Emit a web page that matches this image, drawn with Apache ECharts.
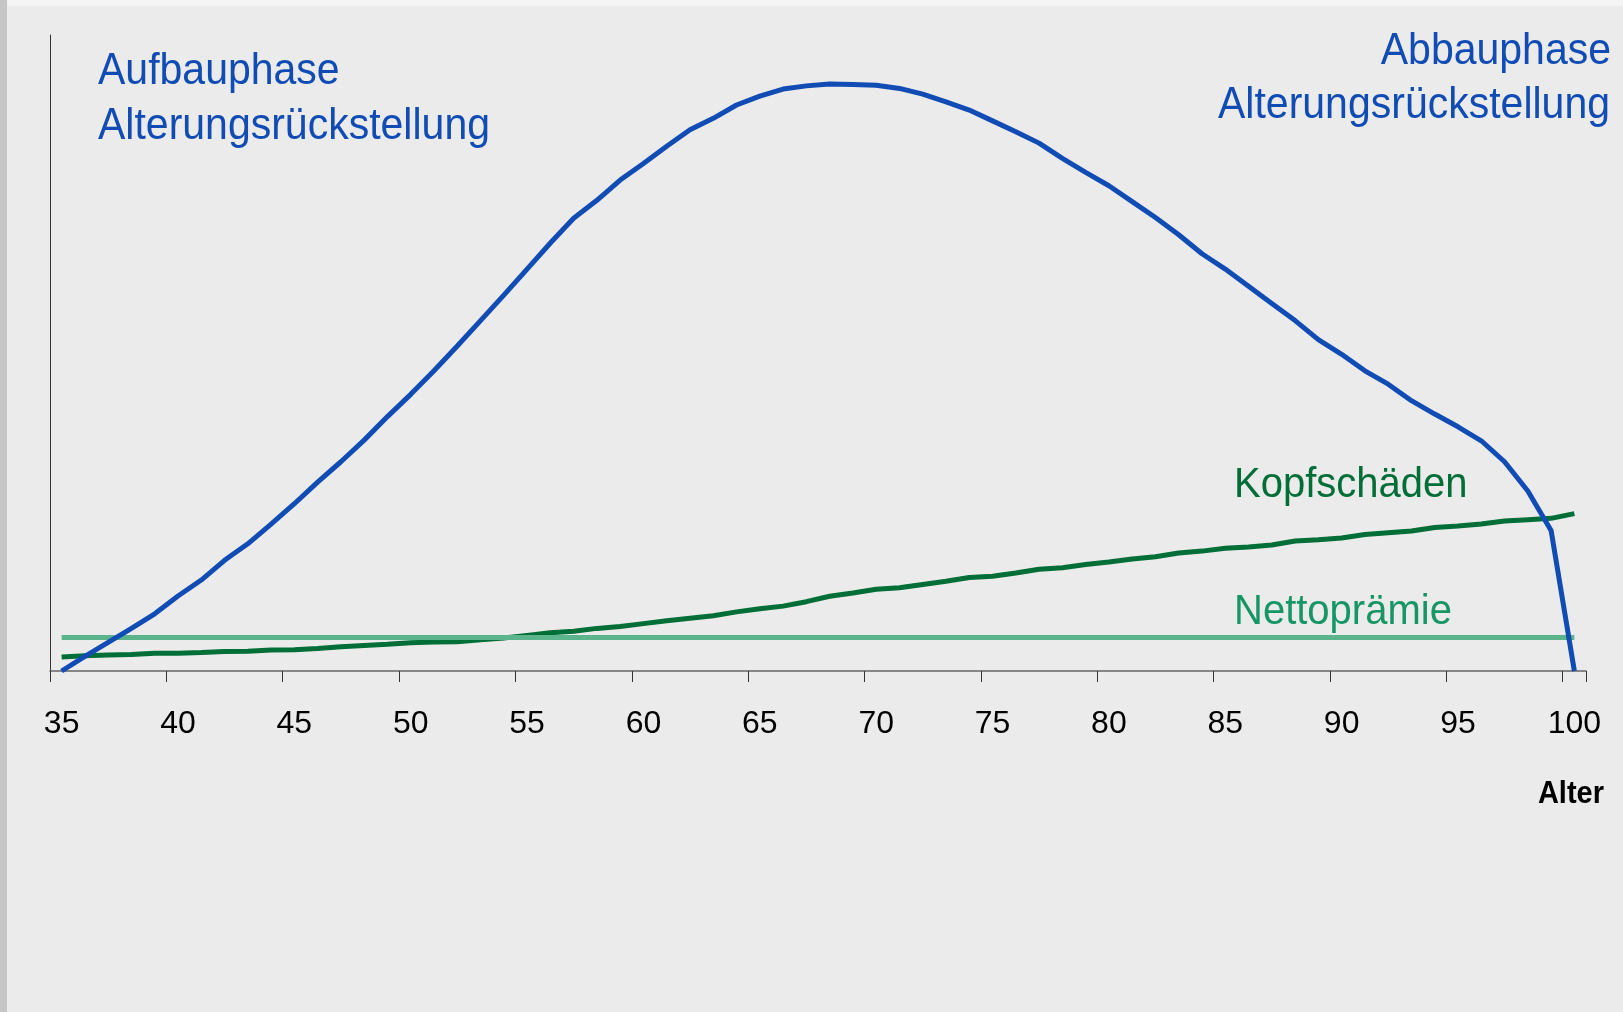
<!DOCTYPE html>
<html>
<head>
<meta charset="utf-8">
<script src="https://cdn.jsdelivr.net/npm/echarts@6/dist/echarts.min.js"></script>
<style>
  html, body { margin: 0; padding: 0; background: #ebebeb; }
  #wrap { position: relative; width: 1623px; height: 1012px; overflow: hidden; }
  #chart { position: absolute; left: 0; top: 0; width: 1623px; height: 1012px; }
  .edge-left { position: absolute; left: 0; top: 0; width: 7px; height: 1012px; background: #c6c6c6; }
  .edge-top { position: absolute; left: 7px; top: 0; width: 1616px; height: 6px; background: #f4f4f4; }
</style>
</head>
<body>
<div id="wrap">
  <div class="edge-left"></div>
  <div class="edge-top"></div>
  <div id="chart"></div>
</div>
<script>
// Alter (Kategorien)
const ages = [
  '35', '36', '37', '38', '39', '40', '41', '42', '43', '44',
  '45', '46', '47', '48', '49', '50', '51', '52', '53', '54',
  '55', '56', '57', '58', '59', '60', '61', '62', '63', '64',
  '65', '66', '67', '68', '69', '70', '71', '72', '73', '74',
  '75', '76', '77', '78', '79', '80', '81', '82', '83', '84',
  '85', '86', '87', '88', '89', '90', '91', '92', '93', '94',
  '95', '96', '97', '98', '99', '100'
]

// Alterungsrückstellung (blau)
const reserve = [
  0, 2.3, 4.5, 6.7, 9.0, 11.8, 14.3, 17.4, 20.0, 23.1,
  26.3, 29.7, 32.9, 36.3, 40.0, 43.5, 47.2, 51.1, 55.1, 59.1,
  63.2, 67.3, 71.2, 74.0, 77.2, 79.8, 82.5, 85.1, 86.9, 89.0,
  90.4, 91.5, 92.0, 92.3, 92.2, 92.1, 91.6, 90.7, 89.5, 88.2,
  86.5, 84.8, 83.0, 80.6, 78.4, 76.3, 73.8, 71.3, 68.6, 65.6,
  63.2, 60.5, 57.8, 55.1, 52.1, 49.8, 47.2, 45.1, 42.5, 40.4,
  38.4, 36.2, 32.9, 28.3, 22.1, 0
]

// Kopfschäden (dunkelgrün)
const claims = [
  2.2, 2.4, 2.5, 2.6, 2.8, 2.8, 2.9, 3.05, 3.1, 3.3,
  3.35, 3.55, 3.8, 4.0, 4.2, 4.45, 4.55, 4.6, 4.9, 5.2,
  5.6, 6.0, 6.25, 6.7, 7.0, 7.45, 7.9, 8.3, 8.7, 9.3,
  9.8, 10.2, 10.9, 11.75, 12.25, 12.85, 13.1, 13.6, 14.1, 14.7,
  14.9, 15.4, 16.0, 16.25, 16.75, 17.15, 17.6, 17.95, 18.55, 18.85,
  19.3, 19.5, 19.8, 20.45, 20.65, 20.9, 21.45, 21.75, 22.0, 22.55,
  22.8, 23.1, 23.6, 23.8, 24.0, 24.75
]

// Nettoprämie (konstant)
const premium = [
  5.25, 5.25, 5.25, 5.25, 5.25, 5.25, 5.25, 5.25, 5.25, 5.25,
  5.25, 5.25, 5.25, 5.25, 5.25, 5.25, 5.25, 5.25, 5.25, 5.25,
  5.25, 5.25, 5.25, 5.25, 5.25, 5.25, 5.25, 5.25, 5.25, 5.25,
  5.25, 5.25, 5.25, 5.25, 5.25, 5.25, 5.25, 5.25, 5.25, 5.25,
  5.25, 5.25, 5.25, 5.25, 5.25, 5.25, 5.25, 5.25, 5.25, 5.25,
  5.25, 5.25, 5.25, 5.25, 5.25, 5.25, 5.25, 5.25, 5.25, 5.25,
  5.25, 5.25, 5.25, 5.25, 5.25, 5.25
]

const FONT = '"Liberation Sans", Arial, sans-serif'
const BLUE = '#104cb4'
const DARK_GREEN = '#006e37'

// text in the original is a bit taller than Arial, so stretch it vertically
function label(text, x, y, color, align, size, weight) {
  return {
    type: 'text',
    x: x,
    y: y,
    z: 10,
    scaleY: 1.08,
    style: {
      text: text,
      fill: color,
      font: (weight || 'normal') + ' ' + size + 'px ' + FONT,
      textAlign: align,
      textVerticalAlign: 'middle'
    }
  }
}

const chart = echarts.init(document.getElementById('chart'), null, { renderer: 'canvas' })

chart.setOption({
  animation: false,
  backgroundColor: 'transparent',
  textStyle: { fontFamily: FONT },
  grid: {
    left: 50,
    right: 37,
    top: 35,
    bottom: 341,
    containLabel: false
  },
  xAxis: {
    type: 'category',
    data: ages,
    boundaryGap: true,
    axisLine: { lineStyle: { color: '#666', width: 1.5 } },
    axisTick: {
      show: true,
      interval: 4,
      length: 11,
      lineStyle: { color: '#333', width: 1 }
    },
    axisLabel: {
      interval: 4,
      margin: 37,
      color: '#000',
      fontSize: 32,
      fontFamily: FONT
    },
    splitLine: { show: false }
  },
  yAxis: {
    type: 'value',
    min: 0,
    max: 100,
    axisLine: { show: true, lineStyle: { color: '#333', width: 1 } },
    axisTick: { show: false },
    axisLabel: { show: false },
    splitLine: { show: false }
  },
  series: [
    {
      name: 'Kopfschäden',
      type: 'line',
      data: claims,
      symbol: 'none',
      z: 2,
      lineStyle: { color: DARK_GREEN, width: 5, cap: 'butt' }
    },
    {
      name: 'Nettoprämie',
      type: 'line',
      data: premium,
      symbol: 'none',
      z: 3,
      lineStyle: { color: '#5cb48c', width: 5, cap: 'butt' }
    },
    {
      name: 'Alterungsrückstellung',
      type: 'line',
      data: reserve,
      symbol: 'none',
      z: 4,
      lineStyle: { color: BLUE, width: 5, cap: 'butt' }
    }
  ],
  graphic: [
    label('Aufbauphase', 98, 72, BLUE, 'left', 41),
    label('Alterungsrückstellung', 98, 127, BLUE, 'left', 41),
    label('Abbauphase', 1611, 52, BLUE, 'right', 41),
    label('Alterungsrückstellung', 1610, 106, BLUE, 'right', 41),
    label('Kopfschäden', 1234, 485, DARK_GREEN, 'left', 40),
    label('Nettoprämie', 1234, 612, '#169664', 'left', 40),
    label('Alter', 1604, 794, '#000', 'right', 29, 'bold')
  ]
})
</script>
</body>
</html>
